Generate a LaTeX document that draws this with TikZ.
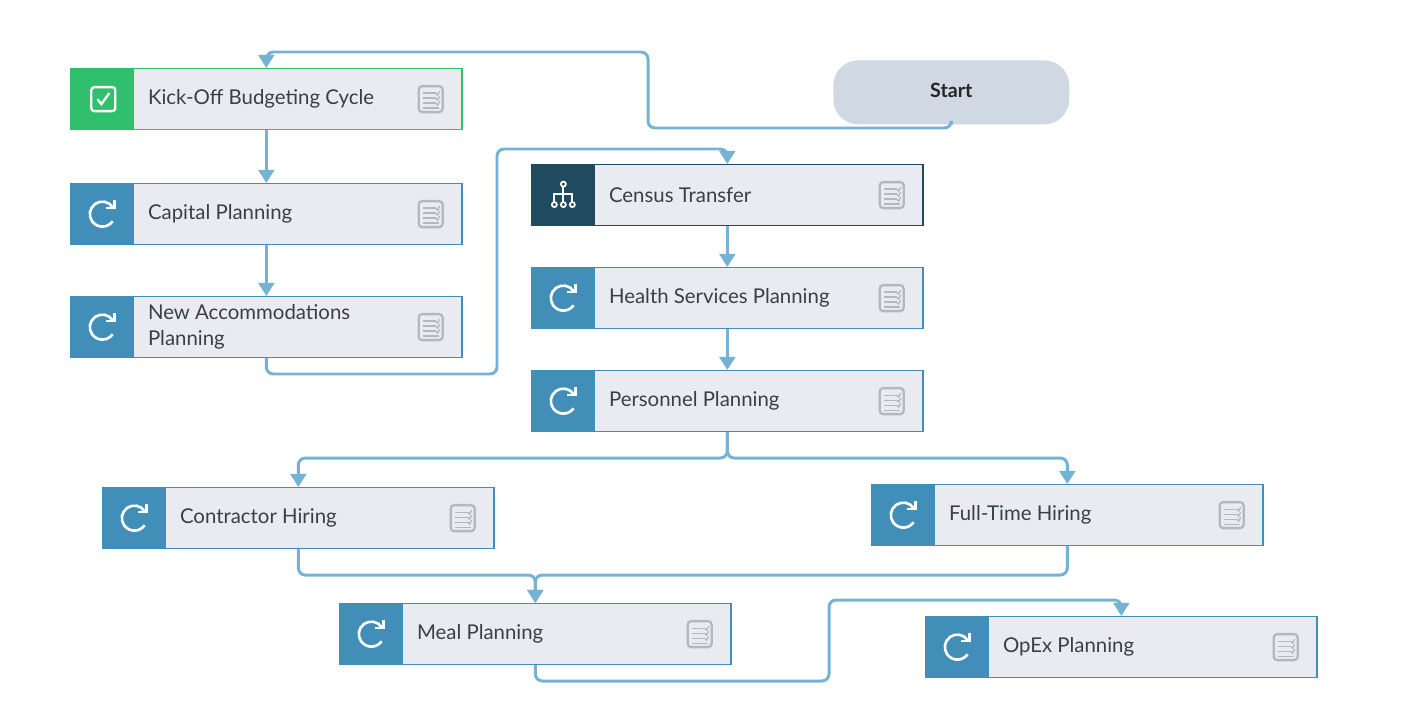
\documentclass[tikz,border=0pt]{standalone}
\usepackage{fontspec}
\setmainfont{Lato}
\usetikzlibrary{positioning}
\usetikzlibrary{arrows.meta}
\definecolor{flowblue}{HTML}{74B3D4}
\definecolor{stepblue}{HTML}{418FB9}
\definecolor{donegreen}{HTML}{2FBF6D}
\definecolor{subnavy}{HTML}{1F4A60}
\definecolor{bodygrey}{HTML}{E9EBF0}
\definecolor{startgrey}{HTML}{CFD8E3}
\definecolor{listgrey}{HTML}{B3B8BF}
\definecolor{textgrey}{HTML}{3A3F45}
\tikzset{
  taskbody/.style={draw=stepblue,fill=bodygrey,line width=0.7pt,anchor=north west,minimum width=7.83cm,minimum height=1.22cm,inner sep=0pt},
  taskicon/.style={fill=stepblue,anchor=west,minimum width=1.28cm,minimum height=1.24cm,inner sep=0pt},
  tasktext/.style={font=\fontsize{11.6}{14.6}\selectfont,text=textgrey,align=left,inner sep=0pt,right=0.26cm of #1},
  startbox/.style={fill=startgrey,anchor=north west,rounded corners=0.5cm,minimum width=4.72cm,minimum height=1.28cm,inner sep=0pt,font=\fontsize{11.2}{14.5}\selectfont\bfseries,text=black!85},
  flowline/.style={draw=flowblue,line width=1.7pt,rounded corners=0.14cm,-{Triangle[width=9pt,length=7.5pt]}},
  pics/refreshicon/.style={code={
    \draw[white,line width=1.5pt] (-35:12.5) arc (-35:-325:12.5);
    \draw[white,line width=1.5pt] (12,-14) -- (12,-6) -- (4,-6);
  }},
  pics/checkicon/.style={code={
    \draw[white,line width=1.3pt,rounded corners=0.06cm] (-12,-12) rectangle (12,12);
    \draw[white,line width=1.3pt] (-6,0) -- (-2,5) -- (6,-6);
  }},
  pics/orgicon/.style={code={
    \draw[white,line width=1pt] (0,-11) circle (2.5);
    \draw[white,line width=1pt] (0,-8.5) -- (0,7);
    \draw[white,line width=1pt] (-9,7) -- (-9,-1) -- (9,-1) -- (9,7);
    \draw[white,line width=1pt] (-9,9.5) circle (2.5) (0,9.5) circle (2.5) (9,9.5) circle (2.5);
  }},
  pics/listicon/.style={code={
    \draw[listgrey,fill=bodygrey,line width=1.3pt,rounded corners=0.07cm] (-12,-13) rectangle (12,13);
    \draw[listgrey,line width=0.7pt] (-8,-6) -- (5,-6) (-8,-1) -- (5,-1) (-8,4) -- (5,4) (-8,9) -- (8,9);
    \draw[listgrey,line width=0.7pt] (5,-6) -- (7,-4) -- (9,-8) (5,-1) -- (7,1) -- (9,-3) (5,4) -- (7,6) -- (9,2);
  }},
}
\begin{document}
\begin{tikzpicture}[x=0.02cm,y=-0.02cm]
\useasboundingbox (0,0) rectangle (1420,700);

\node[startbox] (start) at (833,60) {\raisebox{2pt}{Start}};

% first column
\node[taskbody,draw=donegreen] (kickoff) at (70,68) {};
\node[taskicon,fill=donegreen] (kickofficon) at (kickoff.west) {};
\node[tasktext=kickofficon] (kickofftext) {Kick-Off Budgeting Cycle};
\pic at ([xshift=0.02cm]kickofficon) {checkicon};
\pic at ([xshift=-0.64cm]kickoff.east) {listicon};

\node[taskbody] (capital) at (70,183) {};
\node[taskicon] (capitalicon) at (capital.west) {};
\node[tasktext=capitalicon] (capitaltext) {Capital Planning};
\pic at (capitalicon) {refreshicon};
\pic at ([xshift=-0.64cm]capital.east) {listicon};

\node[taskbody] (accommodations) at (70,296) {};
\node[taskicon] (accommodationsicon) at (accommodations.west) {};
\node[tasktext=accommodationsicon] (accommodationstext) {New Accommodations\\Planning};
\pic at (accommodationsicon) {refreshicon};
\pic at ([xshift=-0.64cm]accommodations.east) {listicon};

% second column
\node[taskbody,draw=subnavy] (census) at (531,164) {};
\node[taskicon,fill=subnavy] (censusicon) at (census.west) {};
\node[tasktext=censusicon] (censustext) {Census Transfer};
\pic at (censusicon) {orgicon};
\pic at ([xshift=-0.64cm]census.east) {listicon};

\node[taskbody] (health) at (531,267) {};
\node[taskicon] (healthicon) at (health.west) {};
\node[tasktext=healthicon] (healthtext) {Health Services Planning};
\pic at (healthicon) {refreshicon};
\pic at ([xshift=-0.64cm]health.east) {listicon};

\node[taskbody] (personnel) at (531,370) {};
\node[taskicon] (personnelicon) at (personnel.west) {};
\node[tasktext=personnelicon] (personneltext) {Personnel Planning};
\pic at (personnelicon) {refreshicon};
\pic at ([xshift=-0.64cm]personnel.east) {listicon};

% hiring row
\node[taskbody] (contractor) at (102,487) {};
\node[taskicon] (contractoricon) at (contractor.west) {};
\node[tasktext=contractoricon] (contractortext) {Contractor Hiring};
\pic at (contractoricon) {refreshicon};
\pic at ([xshift=-0.64cm]contractor.east) {listicon};

\node[taskbody] (fulltime) at (871,484) {};
\node[taskicon] (fulltimeicon) at (fulltime.west) {};
\node[tasktext=fulltimeicon] (fulltimetext) {Full-Time Hiring};
\pic at (fulltimeicon) {refreshicon};
\pic at ([xshift=-0.64cm]fulltime.east) {listicon};

% last row
\node[taskbody] (meal) at (339,603) {};
\node[taskicon] (mealicon) at (meal.west) {};
\node[tasktext=mealicon] (mealtext) {Meal Planning};
\pic at (mealicon) {refreshicon};
\pic at ([xshift=-0.64cm]meal.east) {listicon};

\node[taskbody] (opex) at (925,616) {};
\node[taskicon] (opexicon) at (opex.west) {};
\node[tasktext=opexicon] (opextext) {OpEx Planning};
\pic at (opexicon) {refreshicon};
\pic at ([xshift=-0.64cm]opex.east) {listicon};

% connectors
\coordinate (startturn) at (648,128);
\coordinate (kickoffturn) at (kickoff.north |- 0,52);
\coordinate (accommodationsturn) at (497,374);
\coordinate (censusturn) at (census.north |- 0,149);
\coordinate (hiringturn) at (personnel.south |- 0,458);
\coordinate (mealturn) at (meal.north |- 0,575);
\coordinate (mealout) at (829,681);
\coordinate (opexturn) at (opex.north |- 0,600);

\draw[flowline] (start.south) |- (startturn) |- (kickoffturn) -- (kickoff.north);
\draw[flowline] (kickoff.south) -- (capital.north);
\draw[flowline] (capital.south) -- (accommodations.north);
\draw[flowline] (accommodations.south) |- (accommodationsturn) |- (censusturn) -- (census.north);
\draw[flowline] (census.south) -- (health.north);
\draw[flowline] (health.south) -- (personnel.north);
\draw[flowline] (personnel.south) |- (hiringturn) -| (contractor.north);
\draw[flowline] (personnel.south) |- (hiringturn) -| (fulltime.north);
\draw[flowline] (contractor.south) |- (mealturn) -- (meal.north);
\draw[flowline] (fulltime.south) |- (mealturn) -- (meal.north);
\draw[flowline] (meal.south) |- (mealout) |- (opexturn) -- (opex.north);
\end{tikzpicture}
\end{document}
